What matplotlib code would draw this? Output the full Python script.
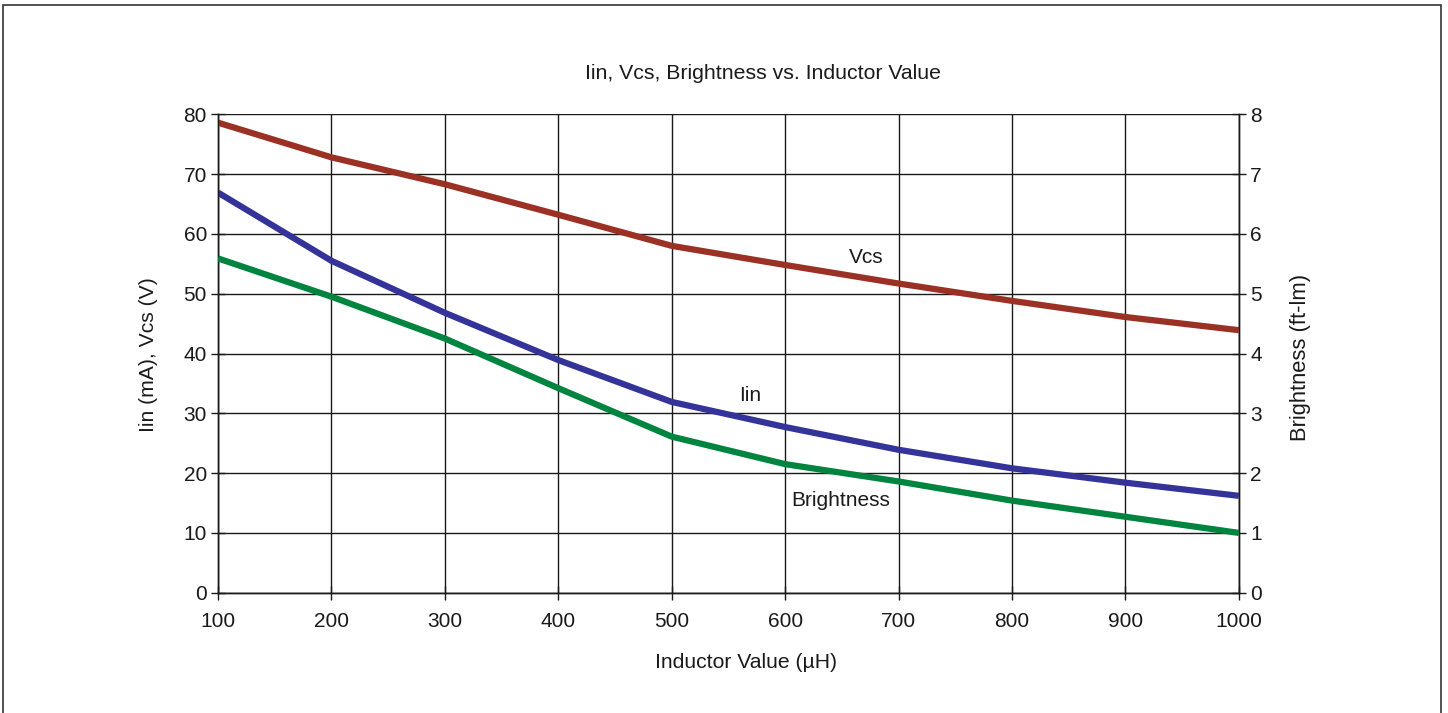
import numpy as np
import matplotlib.pyplot as plt
from matplotlib.patches import Rectangle

plt.rcParams['font.family'] = ['Liberation Sans', 'DejaVu Sans']

# Data
inductor = [100, 200, 300, 400, 500, 600, 700, 800, 900, 1000]
vcs = [78.6, 72.8, 68.3, 63.2, 58.0, 54.8, 51.7, 48.8, 46.1, 43.9]
iin = [66.9, 55.5, 46.8, 38.9, 31.9, 27.7, 23.9, 20.8, 18.4, 16.2]
brightness = [5.59, 4.95, 4.25, 3.42, 2.61, 2.15, 1.86, 1.54, 1.27, 1.0]

txt = '#1a1a1a'
fs = 15

fig = plt.figure(figsize=(14.48, 7.13), dpi=100)
ax = fig.add_axes([0.1506, 0.1687, 0.705, 0.671])

# figure frame
fig.patches.append(Rectangle((0.002, -0.01), 0.993, 1.003, transform=fig.transFigure,
                             fill=False, edgecolor='#333333', linewidth=1.2))

lw = 4.5
ax.plot(inductor, vcs, color='#9B3124', linewidth=lw, solid_capstyle='butt', zorder=3)
ax.plot(inductor, iin, color='#333399', linewidth=lw, solid_capstyle='butt', zorder=3)

ax2 = ax.twinx()
ax2.plot(inductor, brightness, color='#00843F', linewidth=lw, solid_capstyle='butt', zorder=3)

ax.set_xlim(100, 1000)
ax.set_ylim(0, 80)
ax2.set_ylim(0, 8)
ax.set_xticks(range(100, 1001, 100))
ax.set_yticks(range(0, 81, 10))
ax2.set_yticks(range(0, 9))

ax.grid(True, color=txt, linewidth=1.0)
for a in (ax, ax2):
    for s in a.spines.values():
        s.set_color(txt)
        s.set_linewidth(1.0)
    a.tick_params(labelsize=fs, colors=txt, direction='inout', length=10, width=1, pad=3)
    a.spines['top'].set_visible(False)
ax.tick_params(axis='x', pad=9)

fig.text(0.527, 0.8976, 'Iin, Vcs, Brightness vs. Inductor Value', fontsize=15.3,
         color=txt, ha='center', va='center')
fig.text(0.5155, 0.0715, 'Inductor Value (\u00b5H)', fontsize=15.2, color=txt,
         ha='center', va='center')
fig.text(0.1025, 0.502, 'Iin (mA), Vcs (V)', fontsize=15.2, color=txt,
         ha='center', va='center', rotation=90)
fig.text(0.898, 0.4993, 'Brightness (ft-lm)', fontsize=15.8, color=txt,
         ha='center', va='center', rotation=90)

ax.text(671, 56.0, 'Vcs', fontsize=fs, color=txt, ha='center', va='center')
ax.text(569, 33.0, 'Iin', fontsize=fs, color=txt, ha='center', va='center')
ax.text(649, 15.5, 'Brightness', fontsize=fs, color=txt, ha='center', va='center')

fig.savefig('out.png', dpi=100)
